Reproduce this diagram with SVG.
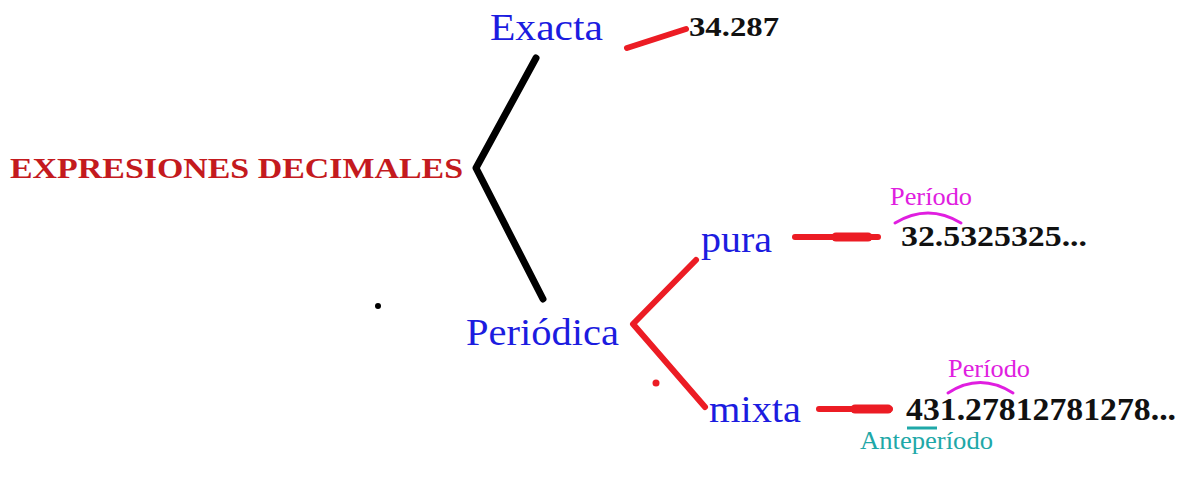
<svg xmlns="http://www.w3.org/2000/svg" width="1184" height="486" viewBox="0 0 1184 486">
<style>
.lbl{font-family:"Liberation Serif","Times New Roman",serif;fill:#1c1ce0}
.num{font-family:"Liberation Serif","Times New Roman",serif;font-weight:bold;fill:#111}
.per{font-family:"Liberation Serif","Times New Roman",serif;fill:#e01ee0;font-size:25px}
.ante{font-family:"Liberation Serif","Times New Roman",serif;fill:#1fa8a8;font-size:25px}
.red{stroke:#ec1c24;fill:none;stroke-linecap:round;stroke-linejoin:round}
.blk{stroke:#000;fill:none;stroke-linecap:round;stroke-linejoin:round}
.arc{stroke:#e01ee0;fill:none;stroke-width:3;stroke-linecap:round}
</style>
<rect width="1184" height="486" fill="#fff"/>
<g id="connectors">
  <polyline class="blk" stroke-width="7" points="536,58 476,168 543,299"/>
  <line class="red" stroke-width="6" x1="627" y1="48" x2="686" y2="29"/>
  <polyline class="red" stroke-width="6" points="696,260 633,324 705,407"/>
  <line class="red" stroke-width="6" x1="795" y1="237" x2="878" y2="237"/>
  <line class="red" stroke-width="9" x1="836" y1="237" x2="868" y2="237"/>
  <line class="red" stroke-width="6" x1="819" y1="409" x2="890" y2="409"/>
  <line class="red" stroke-width="9" x1="855" y1="409" x2="888" y2="409"/>
</g>
<g id="root">
  <text x="10" y="178" font-family="Liberation Serif, Times New Roman, serif" font-weight="bold" font-size="30" fill="#c41a1e" textLength="453" lengthAdjust="spacingAndGlyphs">EXPRESIONES DECIMALES</text>
</g>
<g id="exacta">
  <text class="lbl" x="490" y="40" font-size="37" textLength="113" lengthAdjust="spacingAndGlyphs">Exacta</text>
</g>
<g id="exacta-ejemplo">
  <text class="num" x="689" y="36" font-size="28" textLength="90" lengthAdjust="spacingAndGlyphs">34.287</text>
</g>
<g id="periodica">
  <text class="lbl" x="466" y="345" font-size="38" textLength="153" lengthAdjust="spacingAndGlyphs">Periódica</text>
</g>
<g id="pura">
  <text class="lbl" x="701" y="252" font-size="37" textLength="71" lengthAdjust="spacingAndGlyphs">pura</text>
</g>
<g id="pura-ejemplo">
  <text class="per" x="890" y="205" textLength="82" lengthAdjust="spacingAndGlyphs">Período</text>
  <path class="arc" d="M895,223 Q928,203 961,223"/>
  <text class="num" x="901" y="246" font-size="29" textLength="186" lengthAdjust="spacingAndGlyphs">32.5325325...</text>
</g>
<g id="mixta">
  <text class="lbl" x="709" y="422" font-size="37" textLength="92" lengthAdjust="spacingAndGlyphs">mixta</text>
</g>
<g id="mixta-ejemplo">
  <text class="per" x="948" y="377" textLength="82" lengthAdjust="spacingAndGlyphs">Período</text>
  <path class="arc" d="M948,393 Q980,372 1013,393"/>
  <text class="num" x="906" y="420" font-size="31" textLength="270" lengthAdjust="spacingAndGlyphs">431.27812781278...</text>
  <line x1="907" y1="428" x2="937" y2="428" stroke="#1fa8a8" stroke-width="3"/>
  <text class="ante" x="860" y="449" textLength="133" lengthAdjust="spacingAndGlyphs">Anteperíodo</text>
</g>
<circle cx="656" cy="383" r="3.5" fill="#ec1c24"/>
<circle cx="378" cy="306" r="3" fill="#000"/>
</svg>
